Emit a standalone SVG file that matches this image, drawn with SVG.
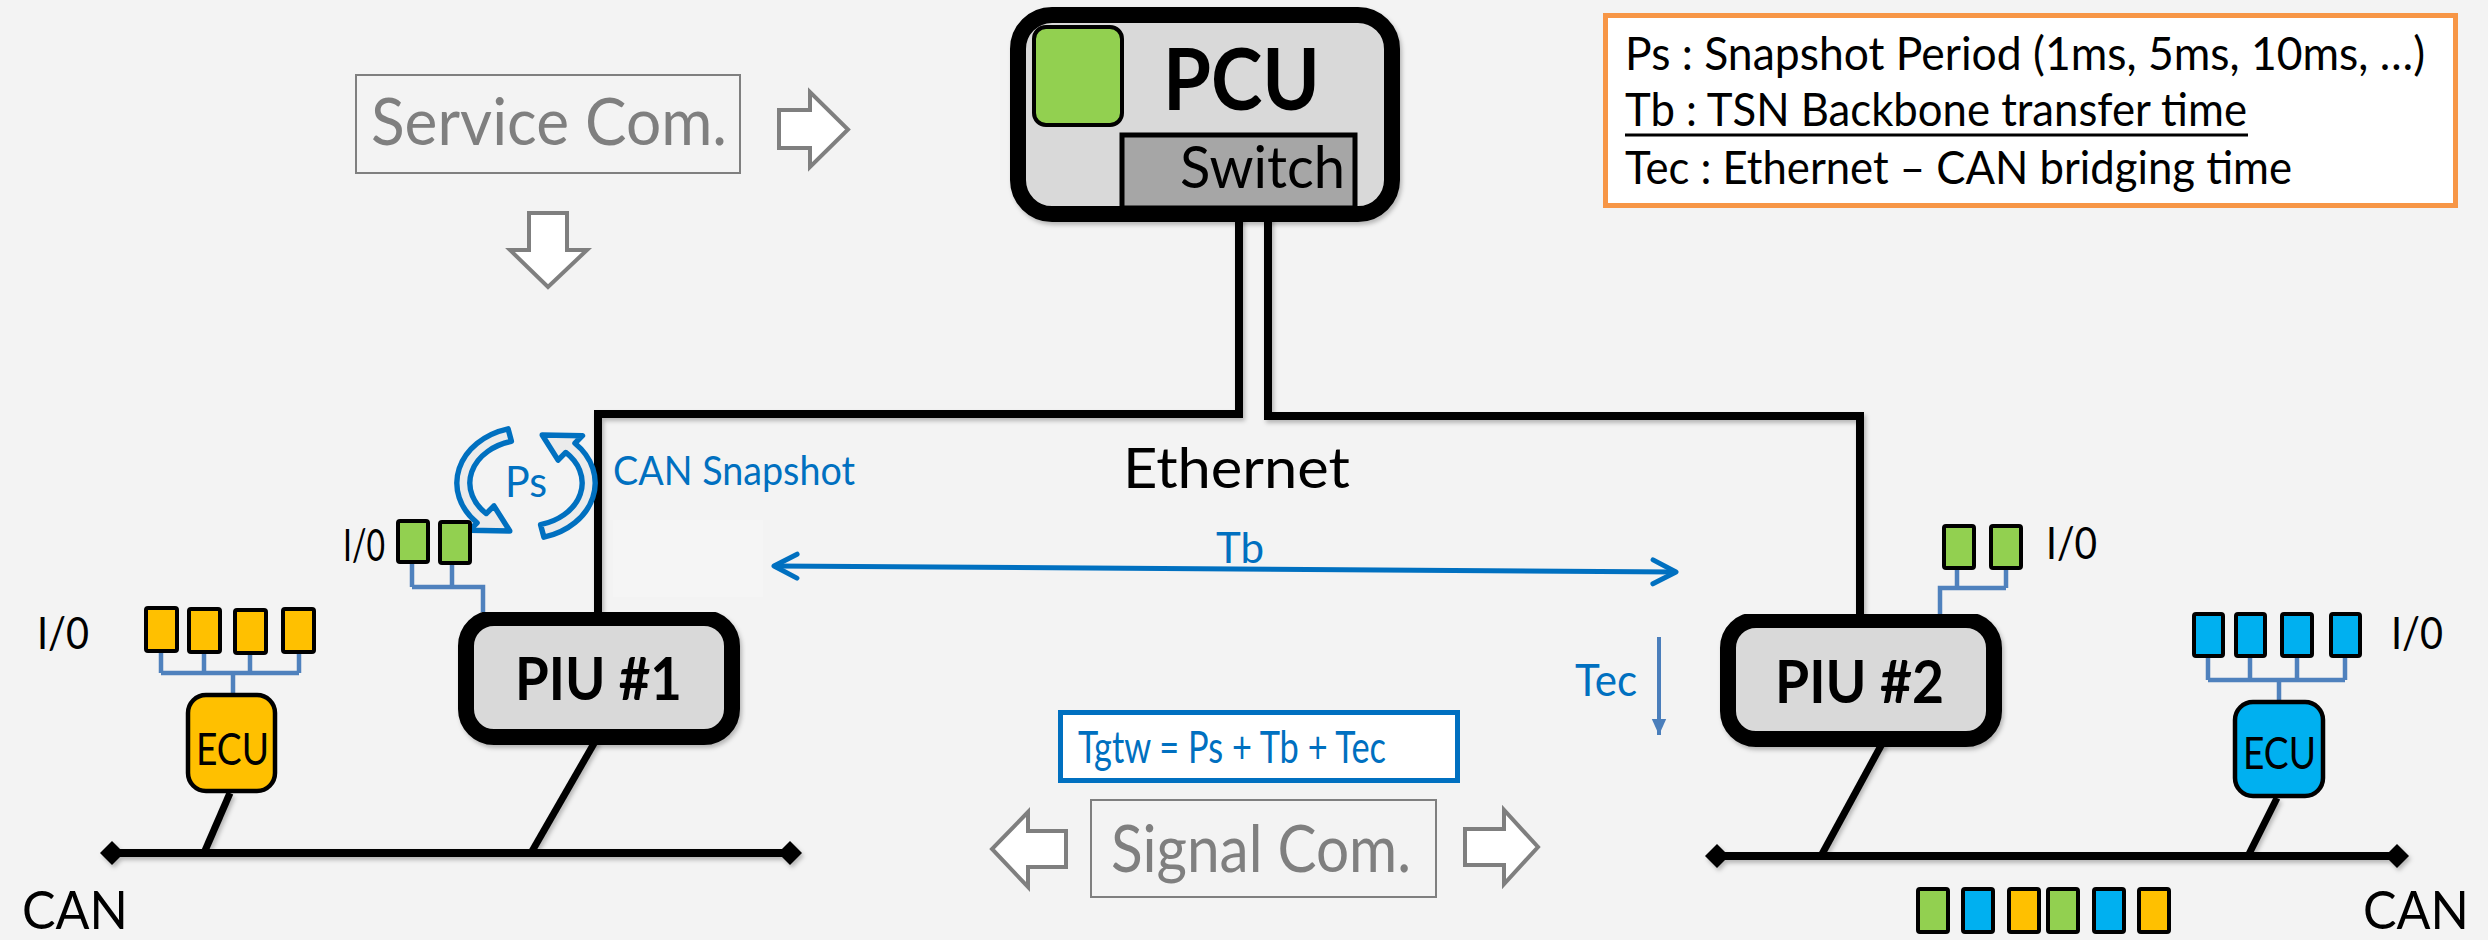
<svg xmlns="http://www.w3.org/2000/svg" width="2488" height="940" viewBox="0 0 2488 940">
  <defs>
    <style>
      .t { font-family: Lato, "Liberation Sans", sans-serif; }
      .b { font-weight: bold; }
      .black { fill: #000; }
      .blue { fill: #0070c0; }
      .gray { fill: #7f7f7f; }
      .wire { fill: none; stroke: #000; stroke-width: 8; stroke-linejoin: miter; }
      .drop { fill: none; stroke: #000; stroke-width: 7; stroke-linecap: butt; }
      .io-wire { fill: none; stroke: #4f81bd; stroke-width: 4.5; stroke-linejoin: miter; }
      .io { stroke: #000; stroke-width: 4; }
      .green { fill: #92d050; }
      .orange { fill: #ffc000; }
      .cyan { fill: #00b0f0; }
      .unit { fill: #d9d9d9; stroke: #000; stroke-width: 16; }
      .ecu { stroke: #000; stroke-width: 4.5; }
      .hollow { fill: #ffffff; stroke: #7f7f7f; stroke-width: 4; stroke-linejoin: miter; }
      .frame { fill: none; stroke: #7f7f7f; stroke-width: 2; }
      .cyc { fill: #ebebeb; stroke: #0070c0; stroke-width: 5; stroke-linejoin: round; }
    </style>
    <filter id="shadow" x="-5%" y="-5%" width="110%" height="120%">
      <feDropShadow dx="2" dy="3" stdDeviation="2" flood-color="#000" flood-opacity="0.25"/>
    </filter>
    <marker id="chev" viewBox="0 0 30 30" refX="27" refY="15" markerWidth="30" markerHeight="30" markerUnits="userSpaceOnUse" orient="auto-start-reverse">
      <path d="M4,3 L27,15 L4,27" fill="none" stroke="#0070c0" stroke-width="5" stroke-linecap="round" stroke-linejoin="round"/>
    </marker>
    <marker id="tri" viewBox="0 0 20 20" refX="20" refY="10" markerWidth="16" markerHeight="18" markerUnits="userSpaceOnUse" orient="auto">
      <path d="M0,1 L20,10 L0,19 Z" fill="#4a7ebb"/>
    </marker>
    <path id="cycle-arrow" d="M509.4,432.8 A64,52 0 0 0 480.7,519.8 L473.7,526.8 L511,527.4 L496.3,504.2 L489.2,511.3 A52,40 0 0 1 512.5,444.4 Z"/>
  </defs>

  <!-- paper -->
  <rect x="0" y="0" width="2488" height="940" fill="#f3f3f3"/>
  <rect x="613" y="520" width="150" height="77" fill="#f5f5f5"/>

  <!-- links between units -->
  <g id="connectors">
    <g filter="url(#shadow)">
      <path class="wire" d="M1239,214 V414 H598 V614"/>
      <path class="wire" d="M1268,214 V416 H1860 V616"/>
      <!-- CAN buses -->
      <line class="wire" x1="112" y1="853" x2="790" y2="853"/>
      <polygon points="100,853 112,841 124,853 112,865" fill="#000"/>
      <polygon points="778,853 790,841 802,853 790,865" fill="#000"/>
      <line class="wire" x1="1717" y1="856" x2="2397" y2="856"/>
      <polygon points="1705,856 1717,844 1729,856 1717,868" fill="#000"/>
      <polygon points="2385,856 2397,844 2409,856 2397,868" fill="#000"/>
      <!-- bus drops -->
      <line class="drop" x1="230" y1="793" x2="204" y2="853"/>
      <line class="drop" x1="596" y1="740" x2="531" y2="853"/>
      <line class="drop" x1="1883" y1="742" x2="1821" y2="856"/>
      <line class="drop" x1="2277" y1="798" x2="2248" y2="856"/>
    </g>
    <!-- I/O wiring -->
    <path class="io-wire" d="M412,560 V587 M452,560 V587 M412,587 H483 V612"/>
    <path class="io-wire" d="M1957,566 V588 M2006,566 V588 M1940,614 V588 H2006"/>
    <path class="io-wire" d="M161,650 V673 M204,650 V673 M250,650 V673 M299,650 V673 M161,673 H299 M233,673 V695"/>
    <path class="io-wire" d="M2208,656 V680 M2250,656 V680 M2297,656 V680 M2345,656 V680 M2208,680 H2345 M2279,680 V702"/>
    <!-- timing arrows -->
    <line x1="774" y1="566" x2="1676" y2="572" stroke="#0070c0" stroke-width="5" marker-start="url(#chev)" marker-end="url(#chev)"/>
    <line x1="1659" y1="637" x2="1659" y2="735" stroke="#4a7ebb" stroke-width="4" marker-end="url(#tri)"/>
  </g>

  <!-- PCU with switch -->
  <g id="pcu">
    <rect class="unit" x="1018" y="15" width="374" height="199" rx="34" filter="url(#shadow)"/>
    <rect class="io green" x="1034" y="27" width="88" height="98" rx="12"/>
    <rect x="1122" y="135" width="233" height="73" fill="#a6a6a6" stroke="#000" stroke-width="5"/>
    <text class="t b black" x="1163" y="110" font-size="86" textLength="157" lengthAdjust="spacingAndGlyphs">PCU</text>
    <text class="t black" x="1180" y="188" font-size="58" textLength="165" lengthAdjust="spacingAndGlyphs">Switch</text>
  </g>

  <!-- legend -->
  <g id="legend">
    <rect x="1605.5" y="15.5" width="850" height="190" fill="#fff" stroke="#f79646" stroke-width="5"/>
    <text class="t black" x="1625" y="70" font-size="46" textLength="800" lengthAdjust="spacingAndGlyphs">Ps : Snapshot Period (1ms, 5ms, 10ms, …)</text>
    <text class="t black" x="1625" y="126" font-size="46" textLength="622" lengthAdjust="spacingAndGlyphs">Tb : TSN Backbone transfer time</text>
    <line x1="1625" y1="135" x2="2248" y2="135" stroke="#000" stroke-width="3"/>
    <text class="t black" x="1625" y="184" font-size="46" textLength="667" lengthAdjust="spacingAndGlyphs">Tec : Ethernet – CAN bridging time</text>
  </g>

  <!-- service communication -->
  <g id="service-com">
    <rect class="frame" x="356" y="75" width="384" height="98"/>
    <text class="t gray" x="371" y="145" font-size="66" textLength="356" lengthAdjust="spacingAndGlyphs">Service Com.</text>
    <polygon class="hollow" points="779,110 810,110 810,92 848,129.5 810,167 810,148 779,148"/>
    <polygon class="hollow" points="529,213 567,213 567,250 587,250 548,287 510,250 529,250"/>
  </g>

  <!-- Ethernet label -->
  <g id="ethernet-label">
    <text class="t black" x="1123" y="488" font-size="57" textLength="227" lengthAdjust="spacingAndGlyphs">Ethernet</text>
  </g>

  <!-- snapshot cycle -->
  <g id="snapshot">
    <g transform="translate(526 483) scale(1.08) translate(-526 -483)">
      <use href="#cycle-arrow" class="cyc"/>
      <use href="#cycle-arrow" class="cyc" transform="rotate(180 526 483)"/>
    </g>
    <text class="t blue" x="505" y="497" font-size="42" textLength="42" lengthAdjust="spacingAndGlyphs">Ps</text>
    <text class="t blue" x="613" y="485" font-size="40" textLength="242" lengthAdjust="spacingAndGlyphs">CAN Snapshot</text>
  </g>

  <!-- PIU #1 and its I/O -->
  <g id="piu1">
    <rect class="unit" x="466" y="618" width="266" height="119" rx="28" filter="url(#shadow)"/>
    <text class="t b black" x="515" y="700" font-size="60" textLength="167" lengthAdjust="spacingAndGlyphs">PIU #1</text>
  </g>
  <g id="piu1-io">
    <rect class="io green" x="398" y="521" width="30" height="41" rx="2"/>
    <rect class="io green" x="440" y="522" width="30" height="41" rx="2"/>
    <text class="t black" x="343" y="561" font-size="45" textLength="42" lengthAdjust="spacingAndGlyphs">I/0</text>
  </g>

  <!-- ECU (orange) -->
  <g id="ecu-left">
    <rect class="ecu orange" x="188" y="695" width="87" height="96" rx="18"/>
    <text class="t black" x="196" y="765" font-size="44" textLength="73" lengthAdjust="spacingAndGlyphs">ECU</text>
  </g>
  <g id="ecu-left-io">
    <rect class="io orange" x="146" y="608" width="31" height="43" rx="2"/>
    <rect class="io orange" x="189" y="609" width="31" height="43" rx="2"/>
    <rect class="io orange" x="235" y="610" width="31" height="43" rx="2"/>
    <rect class="io orange" x="283" y="609" width="31" height="43" rx="2"/>
    <text class="t black" x="37" y="649" font-size="45" textLength="52" lengthAdjust="spacingAndGlyphs">I/0</text>
  </g>

  <!-- PIU #2 and its I/O -->
  <g id="piu2">
    <rect class="unit" x="1728" y="620" width="266" height="119" rx="28" filter="url(#shadow)"/>
    <text class="t b black" x="1775" y="703" font-size="60" textLength="169" lengthAdjust="spacingAndGlyphs">PIU #2</text>
  </g>
  <g id="piu2-io">
    <rect class="io green" x="1944" y="526" width="30" height="42" rx="2"/>
    <rect class="io green" x="1991" y="526" width="30" height="42" rx="2"/>
    <text class="t black" x="2046" y="559" font-size="45" textLength="51" lengthAdjust="spacingAndGlyphs">I/0</text>
  </g>

  <!-- ECU (blue) -->
  <g id="ecu-right">
    <rect class="ecu cyan" x="2235" y="702" width="88" height="94" rx="18"/>
    <text class="t black" x="2243" y="769" font-size="44" textLength="73" lengthAdjust="spacingAndGlyphs">ECU</text>
  </g>
  <g id="ecu-right-io">
    <rect class="io cyan" x="2194" y="614" width="29" height="42" rx="2"/>
    <rect class="io cyan" x="2236" y="614" width="29" height="42" rx="2"/>
    <rect class="io cyan" x="2282" y="614" width="30" height="42" rx="2"/>
    <rect class="io cyan" x="2331" y="614" width="29" height="42" rx="2"/>
    <text class="t black" x="2391" y="649" font-size="45" textLength="52" lengthAdjust="spacingAndGlyphs">I/0</text>
  </g>

  <!-- CAN frame contents -->
  <g id="can-frame">
    <rect class="io green" x="1918" y="889" width="30" height="43" rx="2"/>
    <rect class="io cyan" x="1963" y="889" width="30" height="43" rx="2"/>
    <rect class="io orange" x="2009" y="889" width="30" height="43" rx="2"/>
    <rect class="io green" x="2048" y="889" width="30" height="43" rx="2"/>
    <rect class="io cyan" x="2094" y="889" width="30" height="43" rx="2"/>
    <rect class="io orange" x="2139" y="889" width="30" height="43" rx="2"/>
  </g>

  <!-- bus labels -->
  <g id="can-labels">
    <text class="t black" x="22" y="929" font-size="53" textLength="106" lengthAdjust="spacingAndGlyphs">CAN</text>
    <text class="t black" x="2363" y="929" font-size="53" textLength="106" lengthAdjust="spacingAndGlyphs">CAN</text>
  </g>

  <!-- timing -->
  <g id="timing">
    <text class="t blue" x="1216" y="563" font-size="42" textLength="48" lengthAdjust="spacingAndGlyphs">Tb</text>
    <text class="t blue" x="1575" y="696" font-size="44" textLength="62" lengthAdjust="spacingAndGlyphs">Tec</text>
    <rect x="1060.5" y="712.5" width="397" height="68" fill="#fff" stroke="#0070c0" stroke-width="5"/>
    <text class="t blue" x="1078" y="763" font-size="44" textLength="308" lengthAdjust="spacingAndGlyphs">Tgtw = Ps + Tb + Tec</text>
  </g>

  <!-- signal communication -->
  <g id="signal-com">
    <rect class="frame" x="1091" y="800" width="345" height="97"/>
    <text class="t gray" x="1111" y="872" font-size="66" textLength="300" lengthAdjust="spacingAndGlyphs">Signal Com.</text>
    <polygon class="hollow" points="1066,831 1028,831 1028,812 992,849 1028,887 1028,867 1066,867"/>
    <polygon class="hollow" points="1465,829 1504,829 1504,810 1538,847 1504,884 1504,865 1465,865"/>
  </g>
</svg>
